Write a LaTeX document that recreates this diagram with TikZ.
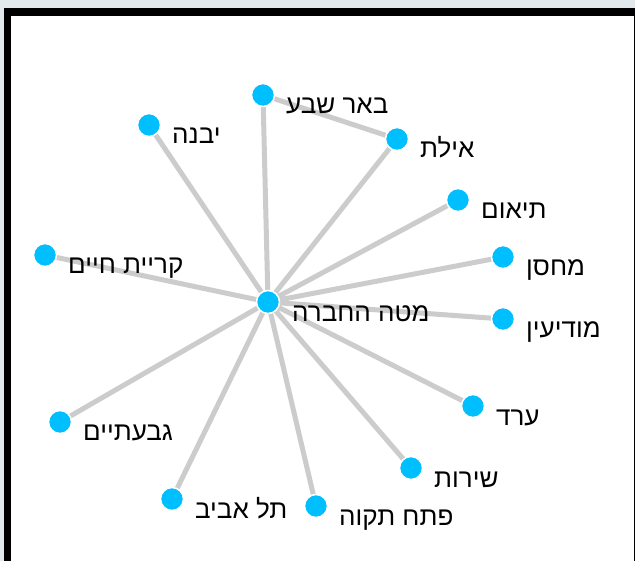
\documentclass[tikz,border=0pt]{standalone}
\usepackage{fontspec}
\TeXXeTstate=1
\newfontfamily\hebfont[Script=Hebrew]{Liberation Sans}
\definecolor{bgband}{HTML}{E1E9EC}
\definecolor{edgegray}{HTML}{CCCCCC}
\definecolor{nodeblue}{HTML}{00BFFF}
\tikzset{
  vert/.style={circle, fill=nodeblue, draw=white, line width=1.5pt, minimum size=23pt, inner sep=0pt},
  lbl/.style={anchor=base west, inner sep=0pt, font=\hebfont\fontsize{26}{30}\selectfont, text=black},
  link/.style={draw=edgegray, line width=5pt}
}
\begin{document}
\begin{tikzpicture}[x=1pt,y=-1pt]
\useasboundingbox (0,0) rectangle (635,561);
\fill[bgband] (0,0) rectangle (635,561);
\fill[black] (4,8) rectangle (635,561);
\fill[white] (11,16) rectangle (634,561);
% vertices
\coordinate (pc) at (268,302);
\coordinate (pbs) at (263,95);
\coordinate (pei) at (397,139);
\coordinate (pyv) at (149,125);
\coordinate (pti) at (458,200);
\coordinate (pma) at (503,257);
\coordinate (pkc) at (45,255);
\coordinate (pmo) at (503,319);
\coordinate (par) at (473,406);
\coordinate (pgv) at (60,422);
\coordinate (psh) at (411,468);
\coordinate (pta) at (172,499);
\coordinate (ppt) at (316,506);
% edges
\path[link] (pc) -- (pbs) (pc) -- (pei) (pc) -- (pyv) (pc) -- (pti)
  (pc) -- (pma) (pc) -- (pkc) (pc) -- (pmo) (pc) -- (par) (pc) -- (pgv)
  (pc) -- (psh) (pc) -- (pta) (pc) -- (ppt) (pbs) -- (pei);
% nodes
\node[vert] (c) at (pc) {};
\node[vert] (bs) at (pbs) {};
\node[vert] (ei) at (pei) {};
\node[vert] (yv) at (pyv) {};
\node[vert] (ti) at (pti) {};
\node[vert] (ma) at (pma) {};
\node[vert] (kc) at (pkc) {};
\node[vert] (mo) at (pmo) {};
\node[vert] (ar) at (par) {};
\node[vert] (gv) at (pgv) {};
\node[vert] (sh) at (psh) {};
\node[vert] (ta) at (pta) {};
\node[vert] (pt) at (ppt) {};
% labels
\node[lbl] (lc) at ([shift={(24,20)}]pc) {\beginR מטה החברה\endR};
\node[lbl] (lbs) at ([shift={(23,19)}]pbs) {\beginR באר שבע\endR};
\node[lbl] (lei) at ([shift={(23,19)}]pei) {\beginR אילת\endR};
\node[lbl] (lyv) at ([shift={(23,19)}]pyv) {\beginR יבנה\endR};
\node[lbl] (lti) at ([shift={(23,19)}]pti) {\beginR תיאום\endR};
\node[lbl] (lma) at ([shift={(23,19)}]pma) {\beginR מחסן\endR};
\node[lbl] (lkc) at ([shift={(23,19)}]pkc) {\beginR קריית חיים\endR};
\node[lbl] (lmo) at ([shift={(23,19)}]pmo) {\beginR מודיעין\endR};
\node[lbl] (lar) at ([shift={(23,19)}]par) {\beginR ערד\endR};
\node[lbl] (lgv) at ([shift={(23,19)}]pgv) {\beginR גבעתיים\endR};
\node[lbl] (lsh) at ([shift={(23,19)}]psh) {\beginR שירות\endR};
\node[lbl] (lta) at ([shift={(23,19)}]pta) {\beginR תל אביב\endR};
\node[lbl] (lpt) at ([shift={(23,19)}]ppt) {\beginR פתח תקוה\endR};
\end{tikzpicture}
\end{document}
